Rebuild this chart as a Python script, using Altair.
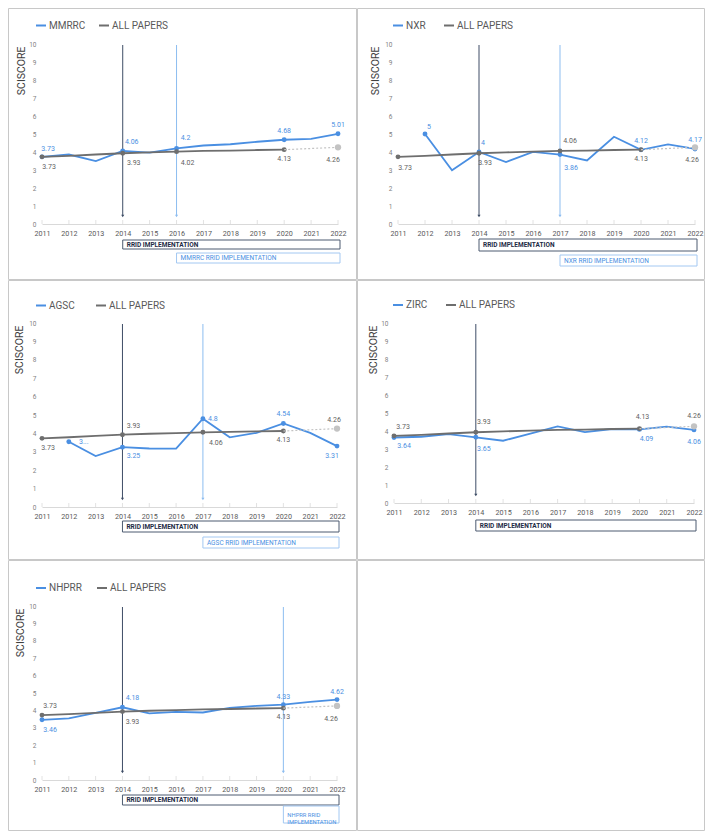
import altair as alt
import pandas as pd

# ---------------- data ----------------
YEARS = list(range(2011, 2023))
ALL_PAPERS_YEARS = list(range(2011, 2021))
ALL_PAPERS = [3.73, 3.79, 3.86, 3.93, 3.98, 4.02, 4.06, 4.08, 4.11, 4.13]
ALL_PAPERS_PROJ_YEARS = [2020, 2022]
ALL_PAPERS_PROJ = [4.13, 4.26]

MMRRC = [3.73, 3.86, 3.50, 4.06, 3.97, 4.20, 4.36, 4.43, 4.57, 4.68, 4.73, 5.01]
NXR = [None, 5.00, 2.99, 4.00, 3.44, 4.01, 3.86, 3.53, 4.85, 4.12, 4.42, 4.17]
AGSC = [None, 3.55, 2.77, 3.25, 3.18, 3.17, 4.80, 3.79, 4.03, 4.54, 4.03, 3.31]
ZIRC = [3.64, 3.68, 3.83, 3.65, 3.46, 3.85, 4.26, 3.94, 4.11, 4.09, 4.24, 4.06]
NHPRR = [3.46, 3.54, 3.86, 4.18, 3.83, 3.92, 3.88, 4.15, 4.26, 4.33, 4.49, 4.62]
SERIES = {"MMRRC": MMRRC, "NXR": NXR, "AGSC": AGSC, "ZIRC": ZIRC, "NHPRR": NHPRR}

RRID_YEAR = 2014
RRID_TEXT = "RRID IMPLEMENTATION"
IMPL_YEAR = {"MMRRC": 2016, "NXR": 2017, "AGSC": 2017, "NHPRR": 2020}
IMPL_TEXT = {
    "MMRRC": "MMRRC RRID IMPLEMENTATION",
    "NXR": "NXR RRID IMPLEMENTATION",
    "AGSC": "AGSC RRID IMPLEMENTATION",
    "NHPRR": "NHPRR RRID\nIMPLEMENTATION",
}
LABEL_TEXT_OVERRIDE = {("AGSC", "S", 2012): "3..."}

# ---------------- style ----------------
BLUE = "#4a8fe2"
GRAY = "#6e6e6e"
LIGHT = "#c3c3c3"
DARK_RULE = "#3e4d66"
LIGHT_RULE = "#8dbdf0"
BOX1_STROKE = "#4d5b70"
BOX2_STROKE = "#a3c8f2"
BOX1_TEXT = "#1e2b45"
CELL = "#c8c8c8"
LBL_GRAY = "#5f5f5f"
FONT = "Roboto"

# label offsets (dx, dy) in px per labelled point; S = resource series, A = all papers
PANELS = [
    dict(key="MMRRC", L=34, T=36, W=296, H=180, R=19, B=56, lx=-7, ly=-24.5, cp=9, tx=-21,
         b1=(16, 25), b2=(29, 39),
         labels={("S", 2011): (6, -8), ("A", 2011): (7, 10), ("S", 2014): (9, -9), ("A", 2014): (11, 10),
                 ("S", 2016): (9, -10), ("A", 2016): (11, 11), ("S", 2020): (0, -9), ("A", 2020): (0, 9),
                 ("S", 2022): (0, -9), ("A", 2022): (-5, 13)}),
    dict(key="NXR", L=41, T=36, W=297, H=180, R=10, B=56, lx=-6, ly=-24.5, cp=14, tx=-23,
         b1=(15, 27), b2=(31, 42),
         labels={("S", 2012): (4, -7), ("S", 2014): (4, -9), ("A", 2011): (7, 11), ("A", 2014): (6, 10),
                 ("S", 2017): (11, 13), ("A", 2017): (10, -10), ("S", 2020): (0, -9), ("A", 2020): (0, 9),
                 ("S", 2022): (0, -9), ("A", 2022): (-3, 13)}),
    dict(key="AGSC", L=34, T=43, W=295, H=184, R=20, B=53, lx=-7, ly=-23.5, cp=17, tx=-23,
         b1=(14, 25), b2=(30, 41),
         labels={("S", 2012): (15, 0), ("A", 2011): (6, 10), ("S", 2014): (11, 9), ("A", 2014): (11, -9),
                 ("S", 2017): (10, 0), ("A", 2017): (13, 11), ("S", 2020): (0, -9), ("A", 2020): (0, 9),
                 ("S", 2022): (-5, 10), ("A", 2022): (-3, -9)}),
    dict(key="ZIRC", L=37, T=43, W=300, H=180, R=11, B=57, lx=-2, ly=-24, cp=14, tx=-21,
         b1=(17, 28), b2=None,
         labels={("A", 2011): (9, -9), ("S", 2011): (10, 9), ("A", 2014): (8, -10), ("S", 2014): (8, 12),
                 ("A", 2020): (3, -12), ("S", 2020): (7, 10), ("A", 2022): (0, -10), ("S", 2022): (0, 12)}),
    dict(key="NHPRR", L=34, T=46, W=295, H=174, R=20, B=51, lx=-7, ly=-24, cp=11, tx=-22,
         b1=(15, 25), b2=(26, 43),
         labels={("S", 2011): (8, 10), ("A", 2011): (8, -9), ("S", 2014): (10, -9), ("A", 2014): (10, 10),
                 ("S", 2020): (0, -8), ("A", 2020): (0, 9), ("S", 2022): (0, -8), ("A", 2022): (-6, 13)}),
]


def fmt(v):
    return f"{v:.2f}".rstrip("0").rstrip(".")


def all_value(year):
    if year in ALL_PAPERS_YEARS:
        return ALL_PAPERS[ALL_PAPERS_YEARS.index(year)]
    return ALL_PAPERS_PROJ[ALL_PAPERS_PROJ_YEARS.index(year)]


def make_panel(cfg):
    key = cfg["key"]
    vals = SERIES[key]
    W, H, L, T, R, B = cfg["W"], cfg["H"], cfg["L"], cfg["T"], cfg["R"], cfg["B"]

    x_axis = alt.Axis(values=YEARS, format="d", grid=False, ticks=False, domainColor="#d9d9d9",
                      domainWidth=1, labelFontSize=7.2, labelColor="#595959", labelPadding=5,
                      labelFont=FONT, title=None, labelFlush=False)
    y_axis = alt.Axis(values=list(range(0, 11)), grid=False, domain=False, ticks=False,
                      labelFontSize=6.5, labelColor="#7f7f7f", labelPadding=6, labelFont=FONT,
                      title="SCISCORE", titleFontSize=10.5, titleFontWeight="normal", titleColor="#404040",
                      titleFont=FONT, titleX=cfg["tx"], titleY=2, titleAlign="right",
                      titleBaseline="middle", titleAngle=270)
    X = alt.X("year:Q", scale=alt.Scale(domain=[2011, 2022], nice=False, zero=False), axis=x_axis)
    Y = alt.Y("value:Q", scale=alt.Scale(domain=[0, 10], nice=False), axis=y_axis)

    legend = alt.Legend(title=None, orient="none", legendX=cfg["lx"], legendY=cfg["ly"],
                        direction="horizontal", symbolType="stroke", symbolSize=100,
                        symbolStrokeWidth=2, labelFontSize=10, labelColor="#595959", labelFont=FONT,
                        columnPadding=cfg["cp"], labelOffset=2, padding=0)
    color = alt.Color("series:N", scale=alt.Scale(domain=[key, "ALL PAPERS"], range=[BLUE, GRAY]),
                      legend=legend)

    one = pd.DataFrame({"a": [0]})
    layers = []
    # cell border
    layers.append(alt.Chart(one).mark_rect(fillOpacity=0, stroke=CELL, strokeWidth=1).encode(
        x=alt.value(-L + 0.5), x2=alt.value(W + R - 0.5), y=alt.value(-T + 0.5), y2=alt.value(H + B - 0.5)))
    # small category ticks
    layers.append(alt.Chart(pd.DataFrame({"year": YEARS})).mark_rule(color="#e2e2e2", strokeWidth=1).encode(
        x=X, y=alt.value(H - 4), y2=alt.value(H)))

    # implementation markers
    impl = [(RRID_YEAR, DARK_RULE, BOX1_STROKE, BOX1_TEXT, RRID_TEXT, cfg["b1"], "bold", 6.5)]
    if key in IMPL_YEAR:
        fs = 5.8 if "\n" in IMPL_TEXT[key] else 6.5
        impl.append((IMPL_YEAR[key], LIGHT_RULE, BOX2_STROKE, BLUE, IMPL_TEXT[key], cfg["b2"], "normal", fs))
    for yr, rc, bs, tc, txt, (bt, bb), fw, fs in impl:
        d = pd.DataFrame({"year": [yr], "label": [txt]})
        layers.append(alt.Chart(d).mark_rule(color=rc, strokeWidth=1).encode(
            x=X, y=alt.value(1), y2=alt.value(H - 8)))
        layers.append(alt.Chart(d).mark_point(shape="triangle-down", filled=True, size=10, color=rc, opacity=1).encode(
            x=X, y=alt.value(H - 8)))
        layers.append(alt.Chart(d).mark_rect(fill="white", stroke=bs, strokeWidth=1).encode(
            x=X, x2=alt.value(W + 2), y=alt.value(H + bt), y2=alt.value(H + bb)))
        layers.append(alt.Chart(d).mark_text(align="left", baseline="middle", dx=4, fontSize=fs, fontWeight=fw,
                                             color=tc, font=FONT, lineBreak="\n", lineHeight=fs + 1.5).encode(
            x=X, y=alt.value(H + (bt + bb) / 2), text="label:N"))

    # series line
    sdf = pd.DataFrame({"year": YEARS, "value": vals, "series": key}).dropna()
    layers.append(alt.Chart(sdf).mark_line(strokeWidth=1.8).encode(x=X, y=Y, color=color))
    s_years = sorted(y for (s, y) in cfg["labels"] if s == "S")
    smk = sdf[sdf["year"].isin(s_years)]
    layers.append(alt.Chart(smk).mark_circle(size=24, color=BLUE, opacity=1).encode(x=X, y=Y))

    # all papers line
    adf = pd.DataFrame({"year": ALL_PAPERS_YEARS, "value": ALL_PAPERS, "series": "ALL PAPERS"})
    layers.append(alt.Chart(adf).mark_line(strokeWidth=1.8).encode(x=X, y=Y, color=color))
    a_years = sorted(y for (s, y) in cfg["labels"] if s == "A" and y in ALL_PAPERS_YEARS)
    amk = adf[adf["year"].isin(a_years)]
    layers.append(alt.Chart(amk).mark_circle(size=24, color=GRAY, opacity=1).encode(x=X, y=Y))
    pdf = pd.DataFrame({"year": ALL_PAPERS_PROJ_YEARS, "value": ALL_PAPERS_PROJ})
    layers.append(alt.Chart(pdf).mark_line(strokeWidth=1.2, strokeDash=[2, 2], color=LIGHT).encode(x=X, y=Y))
    layers.append(alt.Chart(pdf[pdf["year"] == 2022]).mark_circle(size=40, color=LIGHT, opacity=1).encode(x=X, y=Y))

    # data labels grouped by offset
    groups = {}
    for (s, yr), (dx, dy) in cfg["labels"].items():
        v = vals[yr - 2011] if s == "S" else all_value(yr)
        txt = LABEL_TEXT_OVERRIDE.get((key, s, yr), fmt(v))
        groups.setdefault((s, dx, dy), []).append({"year": yr, "value": v, "label": txt})
    for (s, dx, dy), rows in groups.items():
        layers.append(alt.Chart(pd.DataFrame(rows)).mark_text(
            dx=dx, dy=dy, fontSize=7, font=FONT, align="center", baseline="middle",
            color=BLUE if s == "S" else LBL_GRAY).encode(x=X, y=Y, text="label:N"))

    return alt.layer(*layers).properties(width=W, height=H)


panels = [make_panel(c) for c in PANELS]
# empty sixth cell, sharing the NHPRR panel's top offset so both rows line up
E_T = PANELS[4]["T"]
empty = alt.Chart(pd.DataFrame({"a": [0]})).mark_rect(fillOpacity=0, stroke=CELL, strokeWidth=1).encode(
    x=alt.value(0.5), x2=alt.value(347.5), y=alt.value(-E_T + 0.5), y2=alt.value(271 - E_T - 0.5)
).properties(width=348, height=271 - E_T)


def row(a, b):
    return alt.hconcat(a, b, spacing=0).resolve_scale(color="independent").resolve_legend(color="independent")


chart = alt.vconcat(row(panels[0], panels[1]), row(panels[2], panels[3]), row(panels[4], empty),
                    spacing=0, padding=0, background="white") \
    .resolve_scale(color="independent").resolve_legend(color="independent") \
    .configure(font=FONT).configure_view(strokeWidth=0)

chart.save("out.html", embed_options={"renderer": "svg", "actions": False})
